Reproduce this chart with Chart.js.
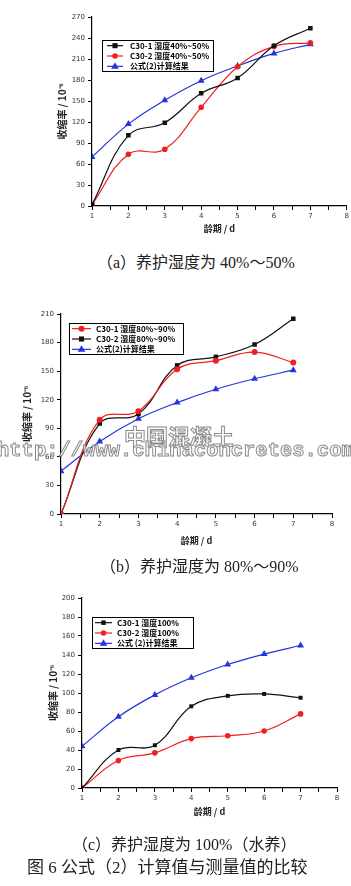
<!DOCTYPE html>
<html>
<head>
<meta charset="utf-8">
<script src="https://cdn.jsdelivr.net/npm/chart.js@4"></script>
<style>
  body { margin: 0; background: #fff; }
  #page { position: relative; width: 351px; height: 886px; overflow: hidden; background: #fff; }
  .box { position: absolute; left: 0; width: 351px; }
  .cap { position: absolute; white-space: nowrap; line-height: 20px; color: #222;
         font-family: "Liberation Serif", "Noto Sans CJK SC", serif; font-size: 16px; }
  .wm { position: absolute; white-space: nowrap; color: rgba(255,255,255,0.7);
        -webkit-text-stroke: 1px #8a8a8a; pointer-events: none; }
</style>
</head>
<body>
<div id="page">
  <div class="box" style="top:0;height:240px"><canvas id="ga"></canvas></div>
  <div class="cap" style="top:253px;left:97px">（a）养护湿度为 40%～50%</div>
  <div class="box" style="top:290px;height:270px"><canvas id="gb"></canvas></div>
  <div class="cap" style="top:557px;left:100px">（b）养护湿度为 80%～90%</div>
  <div class="box" style="top:580px;height:240px"><canvas id="gc"></canvas></div>
  <div class="cap" style="top:835px;left:72px">（c）养护湿度为 100%（水养）</div>
  <div class="cap" style="top:858px;left:27px;font-size:17px">图 6 公式（2）计算值与测量值的比较</div>
  <div class="wm" style="top:419px;left:124px;font:bold 22px 'Noto Sans CJK SC'">中国混凝土</div>
  <div class="wm" style="top:439px;left:-3px;font:bold 20.5px 'Liberation Mono'">http://www.chinaconcretes.com</div>
</div>
<script>
// 龄期 (d)
const days = [1, 2, 3, 4, 5, 6, 7];

// (a) 湿度 40%~50%
const aC301 = [2, 101, 119, 161, 183, 229, 254];
const aC302 = [2, 74, 81, 141, 199, 228, 233];
const aCalc = [70, 117, 151, 179, 200, 218, 231];

// (b) 湿度 80%~90%
const bC301 = [0, 99, 108, 152, 161, 170, 159];
const bC302 = [0, 95, 105, 156, 165, 178, 205];
const bCalc = [45, 76, 100, 117, 131, 142, 151];

// (c) 湿度 100%
const cC301 = [0, 40, 45, 86, 97, 99, 95];
const cC302 = [0, 29, 37, 52, 55, 60, 78];
const cCalc = [44, 75, 98, 116, 130, 141, 150];

const xTicks = [1, 2, 3, 4, 5, 6, 7, 8];

const BLACK = '#111', RED = '#f02020', BLUE = '#2233e0';

function pts(vals) {
    return vals.map((v, i) => ({ x: days[i], y: v }));
}

function series(label, vals, color, style, r) {
    return {
        label: label, data: pts(vals),
        borderColor: color, backgroundColor: color,
        borderWidth: 1.2, tension: 0.4,
        pointStyle: style, pointRadius: r, pointHoverRadius: r,
        pointBorderWidth: 0
    };
}

function drawMark(ctx, style, x, y, r, color) {
    ctx.fillStyle = color;
    ctx.beginPath();
    if (style === 'rect') {
        ctx.rect(x - r * 0.8, y - r * 0.8, r * 1.6, r * 1.6);
    } else if (style === 'triangle') {
        ctx.moveTo(x, y - r);
        ctx.lineTo(x + r * 0.95, y + r * 0.6);
        ctx.lineTo(x - r * 0.95, y + r * 0.6);
        ctx.closePath();
    } else {
        ctx.arc(x, y, r, 0, Math.PI * 2);
    }
    ctx.fill();
}

// legend in a framed box, like the original Origin plot
const boxLegend = {
    id: 'boxLegend',
    afterDraw(chart, args, o) {
        const ctx = chart.ctx;
        const sets = chart.data.datasets;
        const rowH = o.h / sets.length;
        ctx.save();
        ctx.strokeStyle = '#000';
        ctx.lineWidth = 1;
        ctx.strokeRect(o.x + 0.5, o.y + 0.5, o.w, o.h);
        ctx.font = 'bold 8px "Noto Sans CJK SC", "DejaVu Sans"';
        ctx.textBaseline = 'middle';
        sets.forEach((ds, i) => {
            const y = o.y + rowH * (i + 0.5) + 0.5;
            ctx.strokeStyle = ds.borderColor;
            ctx.lineWidth = 1.2;
            ctx.beginPath();
            ctx.moveTo(o.x + o.l0, y);
            ctx.lineTo(o.x + o.l1, y);
            ctx.stroke();
            drawMark(ctx, ds.pointStyle, o.x + (o.l0 + o.l1) / 2, y, ds.pointRadius, ds.borderColor);
            ctx.fillStyle = '#000';
            ctx.fillText(ds.label, o.x + o.tx, y);
        });
        ctx.restore();
    }
};

function makeChart(id, sets, cfg) {
    new Chart(document.getElementById(id), {
        type: 'line',
        data: { datasets: sets },
        plugins: [boxLegend],
        options: {
            responsive: true, maintainAspectRatio: false, animation: false,
            layout: { padding: { top: cfg.top, right: cfg.right, left: 0, bottom: 0 } },
            plugins: { legend: { display: false }, tooltip: { enabled: false }, boxLegend: cfg.legend },
            scales: {
                x: {
                    type: 'linear', min: 1, max: 8,
                    afterFit: s => { s.height = cfg.xh; },
                    afterBuildTicks: s => {
                        const t = [];
                        xTicks.forEach((v, i) => { t.push({ value: v }); if (i < xTicks.length - 1) t.push({ value: v + 0.5 }); });
                        s.ticks = t;
                    },
                    border: { display: true, color: '#000', width: 1.2 },
                    grid: { drawOnChartArea: false, drawTicks: true, tickLength: 4, color: '#000', tickWidth: 1 },
                    ticks: {
                        padding: 2, maxRotation: 0, autoSkip: false, color: '#333',
                        font: { size: 7, family: 'DejaVu Sans' },
                        callback: v => Number.isInteger(v) ? v : ''
                    },
                    title: { display: true, text: '龄期 / d', color: '#222',
                             font: { size: 9, weight: 'bold', family: 'Noto Sans CJK SC' },
                             padding: { top: 0, bottom: cfg.xtb } }
                },
                y: {
                    min: 0, max: cfg.ymax,
                    afterFit: s => { s.width = cfg.yw; },
                    border: { display: true, color: '#000', width: 1.2 },
                    grid: { drawOnChartArea: false, drawTicks: true, tickLength: 4, color: '#000' },
                    ticks: { stepSize: cfg.step, padding: 3, color: '#333', font: { size: 7, family: 'DejaVu Sans' } },
                    title: { display: true, text: '收缩率 / 10⁻⁶', color: '#222',
                             font: { size: 10, weight: 'bold', family: 'Noto Sans CJK SC' },
                             padding: { top: cfg.ytp, bottom: 0 } }
                }
            }
        }
    });
}

makeChart('ga', [
    series('C30-1 湿度40%~50%', aC301, BLACK, 'rect', 3.2),
    series('C30-2 湿度40%~50%', aC302, RED, 'circle', 2.8),
    series('公式(2)计算结果', aCalc, BLUE, 'triangle', 4)
], { top: 17, right: 4, xh: 34, yw: 92, ymax: 270, step: 30, xtb: 6, ytp: 56,
     legend: { x: 102, y: 40, w: 111, h: 31, l0: 5, l1: 21, tx: 28 } });

makeChart('gb', [
    series('C30-1 湿度80%~90%', bC301, RED, 'circle', 3),
    series('C30-2 湿度80%~90%', bC302, BLACK, 'rect', 3.2),
    series('公式(2)计算结果', bCalc, BLUE, 'triangle', 4)
], { top: 24, right: 19, xh: 46, yw: 61, ymax: 210, step: 30, xtb: 13.6, ytp: 21,
     legend: { x: 69, y: 33, w: 114, h: 31, l0: 3, l1: 22, tx: 27 } });

makeChart('gc', [
    series('C30-1 湿度100%', cC301, BLACK, 'rect', 2.8),
    series('C30-2 湿度100%', cC302, RED, 'circle', 2.8),
    series('公式 (2)计算结果', cCalc, BLUE, 'triangle', 4)
], { top: 18, right: 14, xh: 32, yw: 82, ymax: 200, step: 20, xtb: 2.6, ytp: 47,
     legend: { x: 92, y: 37, w: 101, h: 31, l0: 3, l1: 20, tx: 25 } });
</script>
</body>
</html>
